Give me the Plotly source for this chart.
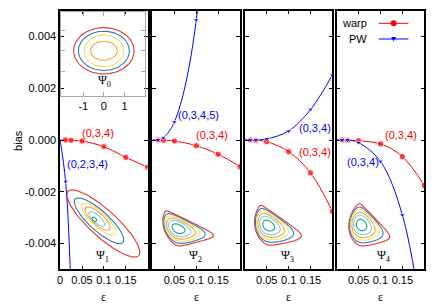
import numpy as np
import plotly.graph_objects as go

W_PX, H_PX = 436, 305

# ---------------- data ----------------
EPS = [0.0125, 0.025, 0.05, 0.1, 0.15, 0.2]
EPS_ORIGIN = 0.0
BIAS_ORIGIN = 0.0

WARP_PSI1 = [0.0, -0.00001, -0.00004, -0.00026, -0.00067, -0.00105]
WARP_PSI2 = [0.0, -0.00001, -0.00004, -0.00022, -0.00055, -0.00103]
WARP_PSI3 = [0.0, -0.00001, -0.000065, -0.00045, -0.00127, -0.00276]
WARP_PSI4 = [0.0, -0.00001, -0.00003, -0.00015, -0.00064, -0.00176]

PW_PSI1 = [-0.0016, -0.0058, -0.021]
PW_PSI2 = [0.0, 0.00009, 0.0007, 0.00464, 0.025]
PW_PSI3 = [0.0, 0.0, 0.00004, 0.00035, 0.00118, 0.00251]
PW_PSI4 = [0.0, 0.0, -0.0001, -0.00083, -0.0029, -0.0075]

WARP_LABELS = ["(0,3,4)", "(0,3,4)", "(0,3,4)", "(0,3,4)"]
PW_LABELS = ["(0,2,3,4)", "(0,3,4,5)", "(0,3,4)", "(0,3,4)"]
STATE_LABELS = ["Ψ<sub>1</sub>", "Ψ<sub>2</sub>", "Ψ<sub>3</sub>", "Ψ<sub>4</sub>"]
STATE0_LABEL = "Ψ<sub>0</sub>"
LEGEND_NAMES = ["warp", "PW"]

X_TICKS_FIRST = [0, 0.05, 0.1, 0.15]
X_TICKTEXT_FIRST = ["0", "0.05", "0.1", "0.15"]
X_TICKS = [0.05, 0.1, 0.15]
X_TICKTEXT = ["0.05", "0.1", "0.15"]
Y_TICKS = [-0.004, -0.002, 0.0, 0.002, 0.004]
Y_TICKTEXT = ["-0.004", "-0.002", "0.000", "0.002", "0.004"]
INSET_TICKS = [-1, 0, 1]
INSET_TICKTEXT = ["-1", "0", "1"]

# contour illustration parameters
PSI0_SEMI_X = [1.47, 1.24, 0.96, 0.65]
PSI0_SEMI_Y = [1.12, 0.95, 0.77, 0.46]
PSI_LEVELS = [0.025, 0.16, 0.32, 0.49, 0.67, 0.88]

# ---------------- style / layout ----------------
RED = "#ff0000"
BLUE = "#0000ff"
C_RED = "#e8342c"
C_BLUE = "#2a7dc4"
C_YEL = "#f6e15a"
C_ORA = "#f0a73a"
C_LBL = "#7ccbee"
C_GRN = "#22a57f"
PSI0_COLORS = [C_RED, C_BLUE, C_YEL, C_ORA]
PSI_COLORS = [C_RED, C_BLUE, C_YEL, C_ORA, C_LBL, C_GRN]

FONT = "Liberation Sans"
SERIF = "Liberation Serif"

LEFTS = [57.5, 150.5, 243.5, 336.0]
PANEL_W = 88.2
TOP, BOTTOM = 10.7, 269.3


def fx(p):
    return p / W_PX


def fy(p):
    return 1 - p / H_PX


fig = go.Figure()

warp_sets = [WARP_PSI1, WARP_PSI2, WARP_PSI3, WARP_PSI4]
pw_sets = [PW_PSI1, PW_PSI2, PW_PSI3, PW_PSI4]

for i in range(4):
    xa = "x" if i == 0 else f"x{i+1}"
    ya = "y" if i == 0 else f"y{i+1}"
    for vals, col, sym, msz in [(warp_sets[i], RED, "circle", 6.5),
                                 (pw_sets[i], BLUE, "triangle-down", 5.5)]:
        xs = [EPS_ORIGIN] + EPS[:len(vals)]
        ys = [BIAS_ORIGIN] + list(vals)
        fig.add_trace(go.Scatter(
            x=xs, y=ys, mode="lines+markers", xaxis=xa, yaxis=ya,
            line=dict(color=col, width=1, shape="spline", smoothing=1.0),
            marker=dict(color=col, symbol=sym, size=[0] + [msz] * len(vals)),
            showlegend=False, hoverinfo="skip", cliponaxis=True))

# ---- Psi_0 inset (own axes) ----
t = np.linspace(0, 2 * np.pi, 181)
for sx, sy, c in zip(PSI0_SEMI_X, PSI0_SEMI_Y, PSI0_COLORS):
    fig.add_trace(go.Scatter(x=sx * np.cos(t), y=sy * np.sin(t), mode="lines",
                             xaxis="x5", yaxis="y5", line=dict(color=c, width=1.1),
                             showlegend=False, hoverinfo="skip"))

# ---- Psi_1 : tilted ellipses, drawn in pixel space ----
PSI1_GEOM = [  # cx, cy, a, b
    (101.0, 223.5, 48.0, 13.5),
    (96.7, 220.8, 32.4, 9.8),
    (96.3, 219.2, 22.7, 7.4),
    (95.3, 218.6, 16.3, 5.8),
    (94.5, 219.0, 10.4, 3.8),
    (92.0, 219.3, 2.8, 1.8),
]
ang = np.deg2rad(42)
for (cx, cy, a, b), c in zip(PSI1_GEOM, PSI_COLORS):
    u = a * np.cos(t)
    v = b * np.sin(t)
    px = cx + u * np.cos(ang) - v * np.sin(ang)
    py = cy + u * np.sin(ang) + v * np.cos(ang)
    fig.add_trace(go.Scatter(x=px, y=py, mode="lines", xaxis="x6", yaxis="y6",
                             line=dict(color=c, width=1.1),
                             showlegend=False, hoverinfo="skip"))


def cut_state(A, C, alpha, uc, a, b, box):
    """Half-ellipse domain below the edge A-C, cut by a wedge at C."""
    A = np.array(A, float)
    C = np.array(C, float)
    L = np.linalg.norm(C - A)
    d = (C - A) / L
    n = np.array([-d[1], d[0]])
    xs = np.linspace(box[0], box[1], 240)
    ys = np.linspace(box[2], box[3], 200)
    X, Y = np.meshgrid(xs, ys)
    u = (X - A[0]) * d[0] + (Y - A[1]) * d[1]
    v = (X - A[0]) * n[0] + (Y - A[1]) * n[1]
    al = np.deg2rad(alpha)
    w1 = (L - u) * np.sin(al) - v * np.cos(al)
    e = 1 - ((u - uc) / a) ** 2 - (v / b) ** 2
    f = v * np.clip(w1, 0, None) * np.clip(e, 0, None)
    f[v < 0] = 0
    return xs, ys, f / f.max()


PSI_CUTS = [  # A, C, alpha, uc, a, b, box
    ((167.0, 211.0), (219.5, 236.5), 40, 29, 33, 29, (145, 235, 195, 265)),
    ((264.0, 207.0), (310.0, 239.0), 45, 23, 29, 31, (235, 325, 195, 265)),
    ((361.0, 204.0), (396.0, 240.0), 58, 24, 27, 32, (330, 410, 190, 265)),
]
for A, C, al, uc, a, b, box in PSI_CUTS:
    xs, ys, f = cut_state(A, C, al, uc, a, b, box)
    for lv, c in zip(PSI_LEVELS, PSI_COLORS):
        fig.add_trace(go.Contour(
            x=xs, y=ys, z=f, xaxis="x6", yaxis="y6",
            contours=dict(start=lv, end=lv, size=1, coloring="none"),
            line=dict(color=c, width=1.1, smoothing=1),
            showscale=False, hoverinfo="skip"))

# ---------------- axes ----------------
axis_common = dict(showline=True, linecolor="black", linewidth=1.5, mirror="allticks",
                   ticks="inside", ticklen=4, tickwidth=1, tickcolor="black",
                   showgrid=False, zeroline=False,
                   tickfont=dict(family=FONT, size=11, color="black"))
layout = {}
for i in range(4):
    kx = "xaxis" if i == 0 else f"xaxis{i+1}"
    ky = "yaxis" if i == 0 else f"yaxis{i+1}"
    layout[kx] = dict(axis_common, domain=[fx(LEFTS[i]), fx(LEFTS[i] + PANEL_W)],
                      range=[0, 0.2], anchor="y" if i == 0 else f"y{i+1}",
                      tickvals=X_TICKS_FIRST if i == 0 else X_TICKS,
                      ticktext=X_TICKTEXT_FIRST if i == 0 else X_TICKTEXT)
    layout[ky] = dict(axis_common, domain=[fy(BOTTOM), fy(TOP)],
                      range=[-0.005, 0.005], anchor="x" if i == 0 else f"x{i+1}",
                      tickvals=Y_TICKS, ticktext=Y_TICKTEXT,
                      showticklabels=(i == 0))

GRAY = "#a8a8a8"
layout["xaxis5"] = dict(domain=[fx(58.5), fx(143.0)], range=[-2.08, 2.0], anchor="y5",
                        showline=True, linecolor=GRAY, linewidth=1, mirror="allticks",
                        ticks="inside", ticklen=4, tickcolor=GRAY, showgrid=False,
                        zeroline=False, tickvals=INSET_TICKS, ticktext=INSET_TICKTEXT,
                        tickfont=dict(family=FONT, size=11, color="black"))
layout["yaxis5"] = dict(domain=[fy(95.5), fy(11.5)], range=[-2.16, 1.9], anchor="x5",
                        showline=True, linecolor=GRAY, linewidth=1, mirror="allticks",
                        ticks="inside", ticklen=4, tickcolor=GRAY, showgrid=False,
                        zeroline=False, tickvals=INSET_TICKS, showticklabels=False)
layout["xaxis6"] = dict(domain=[0, 1], range=[0, W_PX], anchor="y6", visible=False,
                        fixedrange=True)
layout["yaxis6"] = dict(domain=[0, 1], range=[H_PX, 0], anchor="x6", visible=False,
                        fixedrange=True)

# ---------------- annotations ----------------
ann = []


def text(x, y, s, color="black", size=11, family=FONT, **kw):
    ann.append(dict(x=x, y=y, xref="x6", yref="y6", text=s, showarrow=False,
                    font=dict(family=family, size=size, color=color),
                    xanchor=kw.get("xanchor", "center"), yanchor="middle",
                    textangle=kw.get("textangle", 0)))


WARP_LABEL_POS = [(95.5, 133.3), (210.0, 135.0), (314.5, 152.0), (400.5, 135.0)]
PW_LABEL_POS = [(85.5, 164.3), (196.7, 115.0), (314.5, 127.7), (362.5, 161.7)]
STATE_POS = [(100.3, 256.0), (194.3, 256.0), (286.7, 256.0), (383.3, 256.0)]
for i in range(4):
    text(*WARP_LABEL_POS[i], WARP_LABELS[i], color=RED)
    text(*PW_LABEL_POS[i], PW_LABELS[i], color=BLUE)
    text(*STATE_POS[i], STATE_LABELS[i], size=12, family=SERIF)
    text(LEFTS[i] + PANEL_W / 2, 296.5, "ε", size=12, family=SERIF)
text(102.7, 81.0, STATE0_LABEL, size=12, family=SERIF)
text(15.0, 140.0, "bias", textangle=-90)
text(368.5, 23.3, LEGEND_NAMES[0], xanchor="right")
text(368.5, 39.0, LEGEND_NAMES[1], xanchor="right")

shapes = [
    dict(type="line", xref="x6", yref="y6", x0=378.3, x1=408.3, y0=23.3, y1=23.3,
         line=dict(color=RED, width=1)),
    dict(type="circle", xref="x6", yref="y6", x0=390.3, x1=396.3, y0=20.3, y1=26.3,
         line=dict(color=RED, width=0), fillcolor=RED),
    dict(type="line", xref="x6", yref="y6", x0=378.3, x1=408.3, y0=39.0, y1=39.0,
         line=dict(color=BLUE, width=1)),
    dict(type="path", xref="x6", yref="y6",
         path="M 390.8 37.0 L 395.8 37.0 L 393.3 41.3 Z",
         line=dict(color=BLUE, width=0), fillcolor=BLUE),
]

fig.update_layout(width=W_PX, height=H_PX, margin=dict(l=0, r=0, t=0, b=0),
                  paper_bgcolor="white", plot_bgcolor="rgba(0,0,0,0)",
                  showlegend=False, annotations=ann, shapes=shapes,
                  font=dict(family=FONT, size=11, color="black"), **layout)

fig.write_html("out.html", config={"displayModeBar": False},
               post_script="document.body.style.margin='0';document.body.style.padding='0';")
